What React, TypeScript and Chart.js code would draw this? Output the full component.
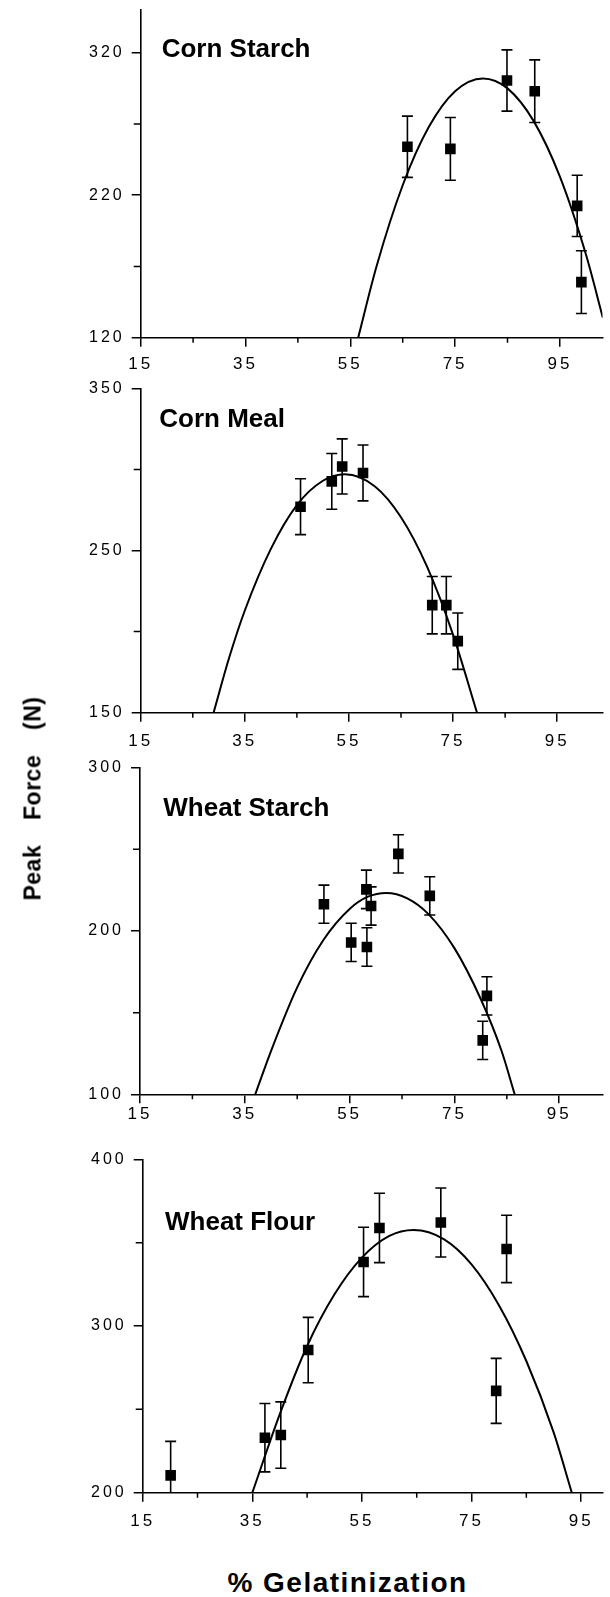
import React, { useEffect, useRef } from 'react';
import { Chart, registerables } from 'chart.js';

Chart.register(...registerables);

const FONT = "'Liberation Sans', Arial, Helvetica, sans-serif";

// shared x axis ticks (% Gelatinization)
const xMajorTicks = [15, 35, 55, 75, 95];
const xMinorTicks = [25, 45, 65, 85];

// ---- Corn Starch ----
const cornStarchX = [65.9, 74.1, 84.9, 90.2, 98.3, 99.1];
const cornStarchY = [254, 252.5, 300.5, 293, 212.5, 159];
const cornStarchErr = [21.5, 22, 21.5, 22, 21.5, 22];
const cornStarchFitX = [56.5, 60, 65, 70, 75, 80.3, 85, 90, 95, 100, 103.2];
const cornStarchFitY = [120, 170, 227, 268, 293, 302, 295, 272, 233, 178, 134];
const cornStarchYTicks = [120, 220, 320];
const cornStarchYMinor = [170, 270];

// ---- Corn Meal ----
const cornMealX = [45.7, 51.7, 53.7, 57.7, 71.0, 73.7, 75.9];
const cornMealY = [277, 292.6, 301.8, 297.8, 216.3, 216.3, 194.1];
const cornMealErr = [17.2, 17.2, 17, 17.2, 17.7, 17.7, 17.4];
const cornMealFitX = [29, 32, 35, 40, 45, 50, 54.2, 60, 65, 70, 75, 79.6];
const cornMealFitY = [150, 184, 213, 251, 278, 293, 297, 289.5, 270.5, 240, 198, 150];
const cornMealYTicks = [150, 250, 350];
const cornMealYMinor = [200, 300];

// ---- Wheat Starch ----
const wheatStarchX = [50.1, 55.3, 58.2, 59.1, 58.3, 64.3, 70.3, 81.2, 80.4];
const wheatStarchY = [216.4, 193, 225.5, 215.3, 190.2, 247.2, 221.5, 160.3, 133];
const wheatStarchErr = [11.7, 11.7, 11.8, 11.7, 11.8, 11.7, 11.7, 11.7, 11.7];
const wheatStarchFitX = [37, 40, 45, 50, 55, 58.5, 62, 66, 70, 75, 80, 84, 86.5];
const wheatStarchFitY = [100, 126.5, 165.5, 194.5, 213.5, 221, 223.3, 220, 210.5, 189.5, 158.5, 126.5, 100];
const wheatStarchYTicks = [100, 200, 300];
const wheatStarchYMinor = [150, 250];

// ---- Wheat Flour ----
const wheatFlourX = [20.1, 37.3, 40.2, 45.2, 55.3, 58.2, 69.4, 79.5, 81.4];
const wheatFlourY = [210.4, 233, 234.6, 285.6, 338.4, 358.8, 362.1, 261.1, 346.2];
const wheatFlourErr = [20.4, 20.5, 19.9, 19.6, 20.8, 20.8, 20.7, 19.5, 20.2];
const wheatFlourFitX = [35, 40, 45, 50, 55, 60, 64.4, 70, 75, 80, 85, 90, 93.3];
const wheatFlourFitY = [200, 247, 288, 319, 341, 354, 357.6, 352, 337, 312.5, 279, 236, 200];
const wheatFlourYTicks = [200, 300, 400];
const wheatFlourYMinor = [250, 350];

type Panel = {
  title: string;
  titleX: number;
  titleBaseline: number;
  top: number;
  height: number;
  padTop: number;
  axisLeft: number;
  xAxisH: number;
  xMin: number;
  xMax: number;
  yMin: number;
  yMax: number;
  xLabelPad: number;
  yTicks: number[];
  yMinor: number[];
  xs: number[];
  ys: number[];
  errs: number[];
  fitX: number[];
  fitY: number[];
};

const panels: Panel[] = [
  {
    title: 'Corn Starch', titleX: 161.7, titleBaseline: 57,
    top: 0, height: 375, padTop: 10, axisLeft: 140.7, xAxisH: 37.3,
    xMin: 15, xMax: 103.13, yMin: 120, yMax: 350, xLabelPad: 7,
    yTicks: cornStarchYTicks, yMinor: cornStarchYMinor,
    xs: cornStarchX, ys: cornStarchY, errs: cornStarchErr,
    fitX: cornStarchFitX, fitY: cornStarchFitY,
  },
  {
    title: 'Corn Meal', titleX: 159.3, titleBaseline: 427,
    top: 375, height: 380, padTop: 13.3, axisLeft: 140.7, xAxisH: 42.3,
    xMin: 15, xMax: 103.7, yMin: 150, yMax: 350, xLabelPad: 9.6,
    yTicks: cornMealYTicks, yMinor: cornMealYMinor,
    xs: cornMealX, ys: cornMealY, errs: cornMealErr,
    fitX: cornMealFitX, fitY: cornMealFitY,
  },
  {
    title: 'Wheat Starch', titleX: 163.3, titleBaseline: 815.5,
    top: 755, height: 375, padTop: 12.7, axisLeft: 140, xAxisH: 35.7,
    xMin: 15, xMax: 103.26, yMin: 100, yMax: 300, xLabelPad: 1,
    yTicks: wheatStarchYTicks, yMinor: wheatStarchYMinor,
    xs: wheatStarchX, ys: wheatStarchY, errs: wheatStarchErr,
    fitX: wheatStarchFitX, fitY: wheatStarchFitY,
  },
  {
    title: 'Wheat Flour', titleX: 165, titleBaseline: 1230,
    top: 1130, height: 410, padTop: 29.3, axisLeft: 142.7, xAxisH: 47.3,
    xMin: 15, xMax: 98.9, yMin: 200, yMax: 400, xLabelPad: 9.4,
    yTicks: wheatFlourYTicks, yMinor: wheatFlourYMinor,
    xs: wheatFlourX, ys: wheatFlourY, errs: wheatFlourErr,
    fitX: wheatFlourFitX, fitY: wheatFlourFitY,
  },
];

function PanelChart({ p }: { p: Panel }) {
  const ref = useRef<HTMLCanvasElement | null>(null);

  useEffect(() => {
    const canvas = ref.current;
    if (!canvas) return;

    const decor = {
      id: 'decor' + p.title.replace(/\s/g, ''),
      beforeDraw(chart: any) {
        chart.ctx.letterSpacing = '3px';
      },
      beforeDatasetsDraw(chart: any) {
        const { ctx, chartArea, scales } = chart;
        const xs = scales.x;
        const ys = scales.y;
        ctx.save();
        ctx.letterSpacing = '0px';
        ctx.strokeStyle = '#000';
        ctx.lineWidth = 1.5;
        // minor ticks
        ctx.beginPath();
        xMinorTicks.forEach((v) => {
          const px = xs.getPixelForValue(v);
          ctx.moveTo(px, chartArea.bottom);
          ctx.lineTo(px, chartArea.bottom + 5);
        });
        p.yMinor.forEach((v) => {
          const py = ys.getPixelForValue(v);
          ctx.moveTo(chartArea.left - 7, py);
          ctx.lineTo(chartArea.left, py);
        });
        ctx.stroke();
        // error bars
        ctx.beginPath();
        ctx.rect(chartArea.left, chartArea.top - 3, chartArea.right - chartArea.left, chartArea.bottom - chartArea.top + 3);
        ctx.clip();
        ctx.lineWidth = 1.6;
        ctx.beginPath();
        p.xs.forEach((xv, i) => {
          const px = xs.getPixelForValue(xv);
          const pt = ys.getPixelForValue(p.ys[i] + p.errs[i]);
          const pb = ys.getPixelForValue(p.ys[i] - p.errs[i]);
          ctx.moveTo(px, pt);
          ctx.lineTo(px, pb);
          ctx.moveTo(px - 5.5, pt);
          ctx.lineTo(px + 5.5, pt);
          ctx.moveTo(px - 5.5, pb);
          ctx.lineTo(px + 5.5, pb);
        });
        ctx.stroke();
        ctx.restore();
      },
      afterDraw(chart: any) {
        const ctx = chart.ctx;
        ctx.save();
        ctx.letterSpacing = '0px';
        ctx.font = `bold 26px ${FONT}`;
        ctx.fillStyle = '#000';
        ctx.textAlign = 'left';
        ctx.textBaseline = 'alphabetic';
        ctx.fillText(p.title, p.titleX, p.titleBaseline - p.top);
        ctx.restore();
        ctx.letterSpacing = '0px';
      },
    };

    const chart = new Chart(canvas, {
      type: 'scatter',
      data: {
        datasets: [
          {
            type: 'scatter',
            data: p.xs.map((x, i) => ({ x, y: p.ys[i] })),
            pointStyle: 'rect',
            pointRadius: 7.5,
            pointBackgroundColor: '#000',
            pointBorderWidth: 0,
            borderColor: '#000',
            backgroundColor: '#000',
          },
          {
            type: 'line',
            data: p.fitX.map((x, i) => ({ x, y: p.fitY[i] })),
            showLine: true,
            borderColor: '#000',
            borderWidth: 2,
            pointRadius: 0,
            cubicInterpolationMode: 'monotone',
            fill: false,
          } as any,
        ],
      },
      options: {
        animation: false,
        responsive: false,
        devicePixelRatio: 1,
        events: [],
        layout: { padding: { top: p.padTop, left: 0, right: 0, bottom: 0 } },
        plugins: {
          legend: { display: false },
          tooltip: { enabled: false },
          title: { display: false },
        },
        scales: {
          x: {
            type: 'linear',
            min: p.xMin,
            max: p.xMax,
            afterBuildTicks: (s: any) => {
              s.ticks = xMajorTicks.map((v) => ({ value: v }));
            },
            afterFit: (s: any) => {
              s.height = p.xAxisH;
              s.paddingLeft = 0;
              s.paddingRight = 0;
              s.paddingTop = 0;
              s.paddingBottom = 0;
            },
            grid: {
              display: true,
              drawOnChartArea: false,
              drawTicks: true,
              tickLength: 9,
              tickColor: '#000',
              tickWidth: 1.5,
              color: '#000',
              lineWidth: 1.5,
            },
            border: { display: true, color: '#000', width: 1.6 },
            ticks: {
              color: '#000',
              font: { family: FONT, size: 17 },
              padding: p.xLabelPad,
              autoSkip: false,
              maxRotation: 0,
              callback: (v: any) => String(v),
            },
          },
          y: {
            type: 'linear',
            min: p.yMin,
            max: p.yMax,
            afterBuildTicks: (s: any) => {
              s.ticks = p.yTicks.map((v) => ({ value: v }));
            },
            afterFit: (s: any) => {
              s.width = p.axisLeft;
              s.paddingLeft = 0;
              s.paddingRight = 0;
              s.paddingTop = 0;
              s.paddingBottom = 0;
            },
            grid: {
              display: true,
              drawOnChartArea: false,
              drawTicks: true,
              tickLength: 9,
              tickColor: '#000',
              tickWidth: 1.5,
              color: '#000',
              lineWidth: 1.5,
            },
            border: { display: true, color: '#000', width: 1.6 },
            ticks: {
              color: '#000',
              font: { family: FONT, size: 16 },
              padding: 7,
              autoSkip: false,
              callback: (v: any) => String(v),
            },
          },
        },
      },
      plugins: [decor],
    } as any);

    return () => {
      chart.destroy();
    };
  }, [p]);

  return (
    <canvas
      ref={ref}
      width={610}
      height={p.height}
      style={{ position: 'absolute', left: 0, top: p.top, width: 610, height: p.height }}
    />
  );
}

export default function App() {
  return (
    <div
      style={{
        position: 'absolute',
        left: 0,
        top: 0,
        width: 610,
        height: 1597,
        background: '#fff',
        overflow: 'hidden',
      }}
    >
      {panels.map((p) => (
        <PanelChart key={p.title} p={p} />
      ))}
      <div
        style={{
          position: 'absolute',
          left: 33 - 150,
          top: 798 - 11.5,
          width: 300,
          height: 23,
          lineHeight: '23px',
          fontSize: 23,
          fontWeight: 'bold',
          fontFamily: FONT,
          textAlign: 'center',
          whiteSpace: 'nowrap',
          letterSpacing: '0.5px',
          wordSpacing: '18px',
          color: '#000',
          transform: 'rotate(-90deg)',
          transformOrigin: 'center center',
        }}
      >
        Peak Force (N)
      </div>
      <div
        style={{
          position: 'absolute',
          left: 347.5 - 200,
          top: 1568.6,
          width: 400,
          height: 28,
          lineHeight: '28px',
          fontSize: 28,
          fontWeight: 'bold',
          fontFamily: FONT,
          textAlign: 'center',
          whiteSpace: 'nowrap',
          letterSpacing: '1.5px',
          color: '#000',
        }}
      >
        % Gelatinization
      </div>
    </div>
  );
}
